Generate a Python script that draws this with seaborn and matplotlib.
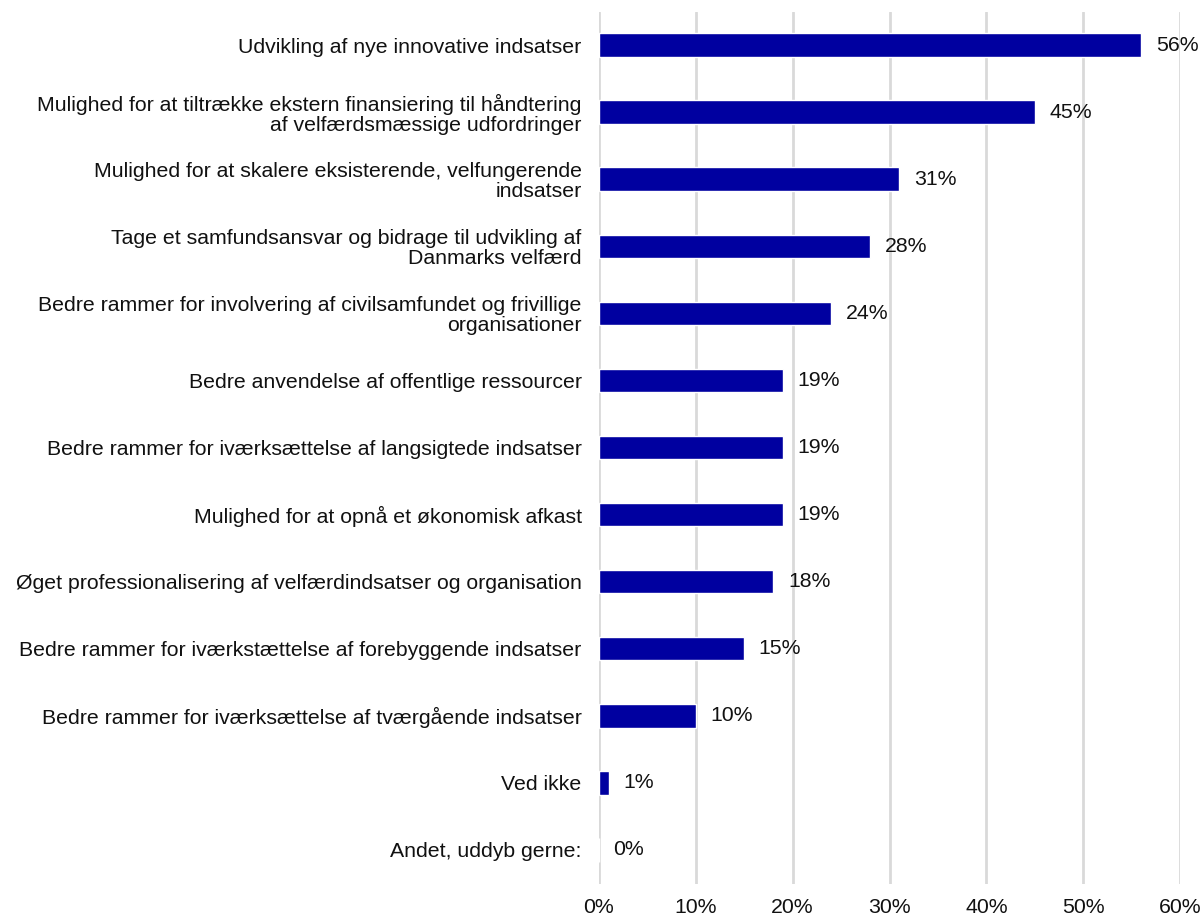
import matplotlib
matplotlib.use("Agg")
import matplotlib.pyplot as plt
import seaborn as sns
import pandas as pd

categories = [
    "Udvikling af nye innovative indsatser",
    "Mulighed for at tiltrække ekstern finansiering til håndtering\naf velfærdsmæssige udfordringer",
    "Mulighed for at skalere eksisterende, velfungerende\nindsatser",
    "Tage et samfundsansvar og bidrage til udvikling af\nDanmarks velfærd",
    "Bedre rammer for involvering af civilsamfundet og frivillige\norganisationer",
    "Bedre anvendelse af offentlige ressourcer",
    "Bedre rammer for iværksættelse af langsigtede indsatser",
    "Mulighed for at opnå et økonomisk afkast",
    "Øget professionalisering af velfærdindsatser og organisation",
    "Bedre rammer for iværkstættelse af forebyggende indsatser",
    "Bedre rammer for iværksættelse af tværgående indsatser",
    "Ved ikke",
    "Andet, uddyb gerne:",
]
values = [56, 45, 31, 28, 24, 19, 19, 19, 18, 15, 10, 1, 0]
x_ticks = [0, 10, 20, 30, 40, 50, 60]

df = pd.DataFrame({"kategori": categories, "andel": values})

sns.set_theme(style="white")
plt.rcParams["font.family"] = ["Liberation Sans", "DejaVu Sans"]

FS = 15.3
TXT = "#111111"

fig = plt.figure(figsize=(12.02, 9.17), dpi=100)
ax = fig.add_axes([599 / 1202, 1 - 883.5 / 917, 581 / 1202, (883.5 - 11.5) / 917])

sns.barplot(data=df, x="andel", y="kategori", color="#0000A0", width=0.35,
            saturation=1, ax=ax, zorder=3)

ax.set_xlim(0, 60)
ax.set_ylim(len(categories) - 0.5, -0.5)
ax.set_xticks(x_ticks)
ax.set_xticklabels([f"{t}%" for t in x_ticks])
ax.set_xlabel("")
ax.set_ylabel("")
ax.grid(axis="x", color="#D9D9D9", linewidth=2, zorder=0)
ax.grid(axis="y", visible=False)
for s in ax.spines.values():
    s.set_visible(False)
ax.tick_params(axis="y", length=0, pad=12.5, labelsize=FS, labelcolor=TXT)
ax.tick_params(axis="x", length=0, pad=10.5, labelsize=FS, labelcolor=TXT)
for lbl in ax.get_yticklabels():
    lbl.set_linespacing(1.05)

for i, v in enumerate(values):
    ax.annotate(f"{v}%", xy=(v, i), xytext=(10.5, 0), textcoords="offset points",
                va="center", ha="left", fontsize=FS, color=TXT)

fig.savefig("out.png", dpi=100)
